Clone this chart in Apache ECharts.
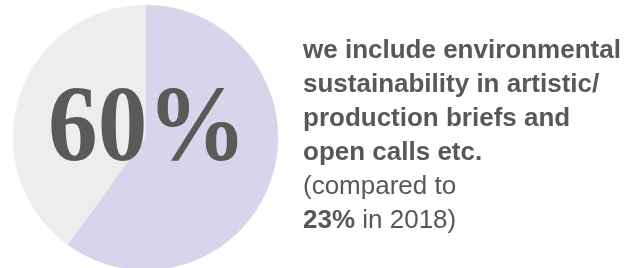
<!DOCTYPE html>
<html><head><meta charset="utf-8">
<script src="https://cdn.jsdelivr.net/npm/echarts@6/dist/echarts.min.js"></script>
<style>html,body{margin:0;padding:0;background:#fff}#c{width:635px;height:268px}</style>
</head><body><div id="c"></div>
<script>
const categories = ['include sustainability', 'other'];
const values = [60, 40];
const bigLabel = '60%';
const boldLines = ['we include environmental', 'sustainability in artistic/', 'production briefs and', 'open calls etc.'];
const compareLine = '(compared to';
const prevValue = '23%';
const prevYear = ' in 2018)';

const colors = ['#d9d4ec', '#ededed'];
const chart = echarts.init(document.getElementById('c'), null, {renderer: 'canvas'});
const txt = boldLines.map(l => '{b|' + l + '}').join('\n') + '\n{n|' + compareLine + '}\n{b|' + prevValue + '}{n|' + prevYear + '}';
chart.setOption({
  animation: false,
  series: [{
    type: 'pie',
    center: [145.5, 137.5],
    radius: [0, 132.5],
    startAngle: 90,
    clockwise: true,
    label: {show: false},
    labelLine: {show: false},
    emphasis: {disabled: true},
    data: categories.map((c, i) => ({name: c, value: values[i], itemStyle: {color: colors[i], borderColor: colors[i], borderWidth: 0.5}}))
  }],
  graphic: [
    {type: 'text', z: 100, x: 48, y: 132, scaleX: 0.92, style: {text: bigLabel, align: 'left', verticalAlign: 'middle', fontFamily: 'Liberation Serif', fontWeight: 'bold', fontSize: 108, fill: '#5a5a58'}},
    {type: 'text', z: 100, left: 303, top: 38, style: {text: txt, rich: {
      b: {fontFamily: 'Liberation Sans', fontWeight: 'bold', fontSize: 26, lineHeight: 34, fill: '#58585a'},
      n: {fontFamily: 'Liberation Sans', fontWeight: 'normal', fontSize: 26, lineHeight: 34, fill: '#58585a'}
    }}}
  ]
});
</script></body></html>
